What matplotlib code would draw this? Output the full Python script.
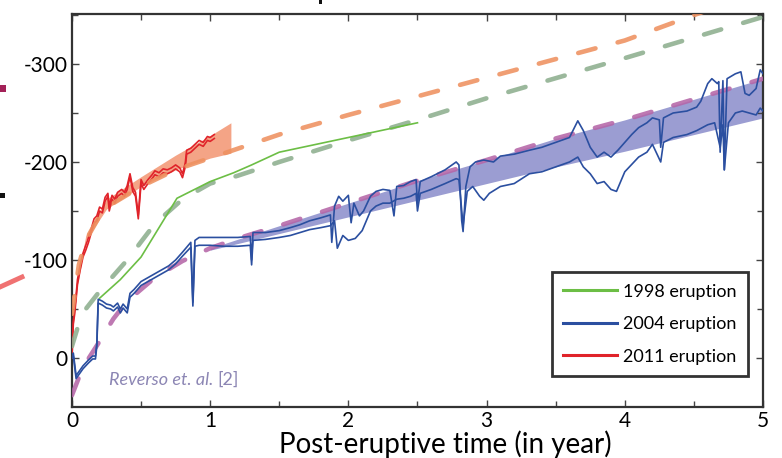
"""
Post-eruptive displacement vs time — 1998 / 2004 / 2011 eruptions
"""

import matplotlib.pyplot as plt
from matplotlib.patches import Rectangle
from matplotlib.lines import Line2D

plt.rcParams["font.family"] = ["Lato", "DejaVu Sans"]

# ---- model curves (dashed) ----
orange_t = [0, 0.05, 0.1, 0.2, 0.3, 0.5, 0.75, 1.0, 1.5, 2.0, 3.0, 4.0, 4.6]
orange_y = [-45, -95, -120, -145, -158, -175, -192, -204, -228, -248, -286, -324, -355]

green_t = [0, 0.05, 0.1, 0.2, 0.4, 0.6, 0.8, 1.0, 1.2, 1.5, 2.0, 2.5, 3.0, 4.0, 5.0]
green_y = [-12, -35, -50, -68, -100, -137, -162, -178, -186, -200, -222, -243, -265, -306, -348]

purple_t = [0, 0.05, 0.1, 0.2, 0.3, 0.4, 0.6, 0.8, 1.0, 1.2, 1.5, 2.0, 2.5, 3.0, 3.5, 4.0, 4.5, 5.0]
purple_y = [38, 20, 5, -17, -40, -58, -82, -99, -112, -122, -135, -158, -181, -202, -224, -243, -264, -285]

# ---- uncertainty bands ----
band2011_t = [0, 0.1, 0.25, 0.5, 0.75, 1.0, 1.15]
band2011_lo = [-45, -120, -152, -175, -192, -204, -209]
band2011_hi = [-48, -125, -162, -185, -207, -227, -240]

band2004_t = [1.0, 1.5, 2.0, 2.5, 3.0, 3.5, 4.0, 4.5, 5.0]
band2004_lo = [-110, -127, -144, -161, -178, -195, -211, -228, -245]
band2004_hi = [-112, -135, -158, -181, -202, -224, -243, -264, -285]

# ---- 1998 eruption ----
t1998 = [0.2, 0.35, 0.5, 0.76, 1.0, 1.17, 1.3, 1.5, 2.0, 2.5]
y1998 = [-61, -80, -103, -163, -180, -189, -197, -210, -225, -240]

# ---- 2011 eruption (two stations) ----
t2011 = [0.0, 0.005, 0.01, 0.02, 0.03, 0.04, 0.06, 0.08, 0.10, 0.12, 0.14, 0.16, 0.18,
         0.20, 0.22, 0.24, 0.26, 0.27, 0.29, 0.31, 0.33, 0.36, 0.38, 0.40, 0.42, 0.44,
         0.46, 0.48, 0.50, 0.52, 0.55, 0.58, 0.60, 0.63, 0.66, 0.69, 0.72, 0.75, 0.78,
         0.80, 0.82, 0.83, 0.86, 0.89, 0.92, 0.95, 0.98, 1.00, 1.03]
y2011_a = [0, -20, -35, -45, -60, -75, -90, -103, -110, -118, -128, -138, -140,
           -150, -148, -160, -165, -150, -162, -158, -165, -168, -165, -172, -185, -170,
           -165, -142, -178, -172, -178, -183, -187, -185, -189, -188, -190, -193, -190,
           -184, -195, -208, -210, -214, -218, -216, -222, -221, -224]
y2011_b = [0, -22, -38, -50, -64, -80, -95, -107, -115, -123, -132, -142, -145,
           -154, -152, -164, -168, -155, -166, -162, -169, -172, -169, -176, -188, -174,
           -169, -146, -182, -176, -182, -187, -191, -189, -193, -192, -194, -197, -194,
           -188, -199, -212, -214, -218, -222, -220, -226, -225, -228]

# ---- 2004 eruption (two stations) ----
t2004_a = [0.0, 0.01, 0.03, 0.05, 0.08, 0.10, 0.12, 0.15, 0.17, 0.18, 0.19, 0.22, 0.25,
           0.28, 0.30, 0.33, 0.35, 0.37, 0.40, 0.42, 0.45, 0.50, 0.55, 0.60, 0.65, 0.70,
           0.75, 0.80, 0.86, 0.875, 0.89, 0.92, 1.0, 1.1, 1.2, 1.29, 1.30, 1.31, 1.40,
           1.50, 1.58, 1.65, 1.72, 1.80, 1.87, 1.88, 1.90, 1.93, 1.96, 2.00, 2.02, 2.04,
           2.08, 2.11, 2.16, 2.20, 2.25, 2.30, 2.33, 2.35, 2.40, 2.45, 2.49, 2.50, 2.52,
           2.60, 2.70, 2.78, 2.80, 2.82, 2.83, 2.85, 2.88, 2.92, 2.98, 3.05, 3.10, 3.20,
           3.31, 3.40, 3.50, 3.60, 3.66, 3.70, 3.75, 3.80, 3.85, 3.90, 3.95, 4.00, 4.05,
           4.10, 4.16, 4.20, 4.25, 4.26, 4.28, 4.35, 4.45, 4.52, 4.55, 4.60, 4.63, 4.67,
           4.68, 4.69, 4.71, 4.72, 4.74, 4.80, 4.84, 4.87, 4.90, 4.95, 4.98, 5.0]
y2004_a = [-3, -5, 18, 14, 8, 5, 2, -2, -2, -15, -60, -58, -55,
           -54, -52, -56, -50, -55, -50, -66, -70, -78, -82, -86, -90, -94,
           -100, -108, -118, -57, -120, -123, -123, -123, -123, -124, -100, -128, -128,
           -130, -133, -136, -140, -143, -146, -118, -155, -165, -160, -166, -138, -158,
           -145, -150, -165, -170, -172, -171, -145, -175, -176, -180, -182, -158, -180,
           -185, -192, -200, -197, -140, -129, -175, -195, -200, -202, -200, -206, -208,
           -212, -215, -220, -225, -242, -232, -215, -205, -210, -205, -212, -220, -228,
           -235, -240, -245, -243, -215, -245, -250, -252, -256, -262, -280, -285, -280,
           -282, -210, -283, -192, -285, -290, -292, -270, -268, -275, -294, -290]

t2004_b = [0.0, 0.01, 0.03, 0.05, 0.08, 0.10, 0.12, 0.15, 0.17, 0.18, 0.19, 0.22, 0.25,
           0.28, 0.30, 0.33, 0.35, 0.37, 0.40, 0.42, 0.45, 0.50, 0.55, 0.60, 0.65, 0.70,
           0.75, 0.80, 0.86, 0.875, 0.89, 0.92, 1.0, 1.1, 1.2, 1.29, 1.30, 1.31, 1.40,
           1.50, 1.58, 1.65, 1.72, 1.80, 1.87, 1.90, 1.92, 1.96, 2.00, 2.05, 2.10, 2.16,
           2.20, 2.25, 2.30, 2.35, 2.40, 2.45, 2.49, 2.50, 2.52, 2.60, 2.70, 2.78, 2.80,
           2.83, 2.86, 2.90, 2.95, 2.98, 3.02, 3.10, 3.20, 3.31, 3.40, 3.50, 3.60, 3.66,
           3.70, 3.75, 3.80, 3.85, 3.90, 3.94, 3.97, 4.00, 4.10, 4.16, 4.20, 4.26, 4.28,
           4.35, 4.45, 4.52, 4.60, 4.65, 4.69, 4.71, 4.72, 4.75, 4.80, 4.85, 4.90, 4.95,
           4.98, 5.0]
y2004_b = [0, -2, 21, 17, 11, 8, 5, 1, 1, -12, -56, -54, -51,
           -50, -48, -52, -46, -51, -46, -62, -66, -74, -78, -82, -86, -90,
           -96, -104, -113, -53, -114, -115, -115, -114, -114, -115, -95, -120, -121,
           -123, -125, -128, -131, -133, -135, -140, -112, -125, -120, -122, -130, -150,
           -155, -158, -158, -162, -163, -165, -168, -150, -168, -172, -178, -183, -182,
           -135, -170, -175, -165, -161, -168, -175, -178, -188, -190, -195, -200, -205,
           -195, -188, -178, -180, -172, -170, -180, -190, -205, -210, -218, -200, -220,
           -225, -228, -232, -238, -240, -215, -238, -192, -240, -250, -252, -250, -248,
           -255, -252]

# ---- axes / labels ----
x_ticks = [0, 1, 2, 3, 4, 5]
x_ticklabels = ["0", "1", "2", "3", "4", "5"]
y_ticks = [-300, -200, -100, 0]
y_ticklabels = ["-300", "-200", "-100", "0"]
legend_labels = ["1998 eruption", "2004 eruption", "2011 eruption"]

COLORS = {
    "orange": "#EE9160",
    "green_dash": "#8DAF8E",
    "purple": "#B566A8",
    "band2011": "#F4A486",
    "band2004": "#9B9DD2",
    "c1998": "#6CBE45",
    "c2004": "#2B4FA0",
    "c2011": "#E0232A",
    "note": "#8C86B4",
}

DASH_KW = dict(lw=3.3, dashes=(3.9, 5.0), dash_capstyle="round", alpha=0.88, zorder=5)


def main():
    fig = plt.figure(figsize=(7.82, 4.58), dpi=100)
    ax = fig.add_axes([0.092, 0.1114, 0.8837, 0.858])

    # bands
    ax.fill_between(band2011_t, band2011_lo, band2011_hi, color=COLORS["band2011"], lw=0, zorder=1)
    ax.fill_between(band2004_t, band2004_lo, band2004_hi, color=COLORS["band2004"], lw=0, zorder=1)

    # observed series
    ax.plot(t2011, y2011_a, color=COLORS["c2011"], lw=1.2, zorder=4)
    ax.plot(t2011, y2011_b, color=COLORS["c2011"], lw=1.2, zorder=4)
    ax.plot(t1998, y1998, color=COLORS["c1998"], lw=1.2, zorder=6)
    ax.plot(t2004_a, y2004_a, color=COLORS["c2004"], lw=1.2, zorder=6)
    ax.plot(t2004_b, y2004_b, color=COLORS["c2004"], lw=1.2, zorder=6)

    # model curves
    ax.plot(orange_t, orange_y, color=COLORS["orange"], **DASH_KW)
    ax.plot(green_t, green_y, color=COLORS["green_dash"], **DASH_KW)
    ax.plot(purple_t, purple_y, color=COLORS["purple"], **DASH_KW)

    note = ax.text(0.27, 22, "Reverso et. al.", style="italic", fontsize=13,
                   color=COLORS["note"], va="center", ha="left")
    ax.annotate("[2]", xy=(1, 0.5), xycoords=note, xytext=(3, 0), textcoords="offset points",
                fontsize=13, color=COLORS["note"], va="center", ha="left")

    ax.set_xlim(0, 5)
    ax.set_ylim(50, -351)
    ax.set_xticks(x_ticks)
    ax.set_xticklabels(x_ticklabels)
    ax.set_xticks([0.5, 1.5, 2.5, 3.5, 4.5], minor=True)
    ax.set_yticks(y_ticks)
    ax.set_yticklabels(y_ticklabels)
    ax.set_yticks([-350, -250, -150, -50], minor=True)
    ax.tick_params(which="both", direction="in", top=True, right=True,
                   labelsize=15, color="#444444", width=1.0)
    ax.tick_params(which="major", length=5, pad=3)
    ax.tick_params(which="minor", length=4)
    for s in ax.spines.values():
        s.set_linewidth(1.6)
        s.set_color("#333333")
    ax.set_xlabel("Post-eruptive time (in year)", fontsize=20)
    ax.xaxis.set_label_coords(0.541, -0.059)

    handles = [Line2D([], [], color=COLORS[c], lw=2.2) for c in ("c1998", "c2004", "c2011")]
    leg = ax.legend(handles, legend_labels, loc="lower right", bbox_to_anchor=(0.978, 0.079),
                    borderaxespad=0, fontsize=13, frameon=True, fancybox=False,
                    handlelength=3.0, handletextpad=0.33, labelspacing=0.92,
                    borderpad=0.62)
    leg.get_frame().set_edgecolor("black")
    leg.get_frame().set_linewidth(2.0)
    leg.set_zorder(10)

    # fragments of neighbouring slide elements at the crop edges
    fig.add_artist(Rectangle((0, 1 - 92 / 458), 6 / 782, 7 / 458, transform=fig.transFigure,
                             color="#A32158", lw=0))
    fig.add_artist(Rectangle((0, 1 - 198 / 458), 5 / 782, 5 / 458, transform=fig.transFigure,
                             color="#111111", lw=0))
    fig.add_artist(Line2D([0, 22 / 782], [1 - 287 / 458, 1 - 277 / 458], transform=fig.transFigure,
                          color="#F07272", lw=3.5))
    fig.add_artist(Rectangle((319 / 782, 1 - 4 / 458), 3 / 782, 4 / 458, transform=fig.transFigure,
                             color="#111111", lw=0))

    fig.savefig("out.png", dpi=100)
    plt.close(fig)


if __name__ == "__main__":
    main()
